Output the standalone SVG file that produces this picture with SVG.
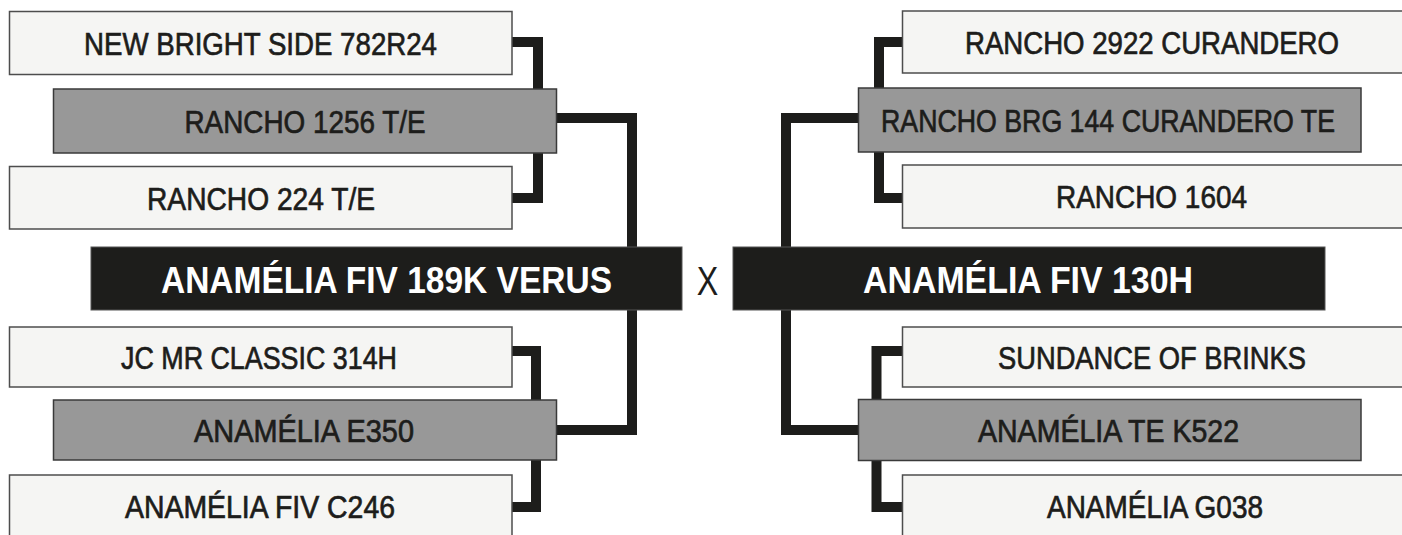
<svg xmlns="http://www.w3.org/2000/svg" width="1402" height="535" viewBox="0 0 1402 535">
<style>
.lt{fill:#f5f5f3;stroke:#4d4d4d;stroke-width:1.5}
.gr{fill:#989898;stroke:#3a3a3a;stroke-width:1.5}
.mn{fill:#1d1d1b;stroke:#555;stroke-width:1}
.t{font-family:"Liberation Sans",Arial,sans-serif;font-size:32px;fill:#1d1d1b;stroke:#1d1d1b;stroke-width:0.7;text-anchor:middle}
.tm{font-family:"Liberation Sans",Arial,sans-serif;font-size:36px;font-weight:bold;fill:#ffffff;text-anchor:middle}
.cn{fill:none;stroke:#1d1d1b;stroke-width:10;stroke-linejoin:miter}
</style>
<rect width="1402" height="535" fill="#ffffff"/>
<g id="connectors">
<path class="cn" d="M512,42 H538 V198 H512"/>
<path class="cn" d="M557,118 H632 V430 H557"/>
<path class="cn" d="M512,351 H536 V507 H512"/>
<path class="cn" d="M902,42 H879 V198 H902"/>
<path class="cn" d="M858,118 H786 V430 H858"/>
<path class="cn" d="M902,351 H876.5 V507 H902"/>
</g>
<g id="n-newbright"><rect class="lt" x="9.5" y="11.5" width="502.5" height="63"/><text class="t" x="260.5" y="55" textLength="353" lengthAdjust="spacingAndGlyphs">NEW BRIGHT SIDE 782R24</text></g>
<g id="n-rancho1256"><rect class="gr" x="53.5" y="89" width="503" height="64"/><text class="t" x="305" y="132.5" textLength="241" lengthAdjust="spacingAndGlyphs">RANCHO 1256 T/E</text></g>
<g id="n-rancho224"><rect class="lt" x="9.5" y="166.5" width="502.5" height="62.5"/><text class="t" x="261" y="209.5" textLength="228" lengthAdjust="spacingAndGlyphs">RANCHO 224 T/E</text></g>
<g id="n-main-left"><rect class="mn" x="91" y="247" width="591" height="63"/><text class="tm" x="386.5" y="292.5" textLength="451" lengthAdjust="spacingAndGlyphs">ANAMÉLIA FIV 189K VERUS</text></g>
<g id="n-x"><text x="707.5" y="295" font-family="Liberation Sans, Arial, sans-serif" font-size="41" fill="#1d1d1b" text-anchor="middle" textLength="21.5" lengthAdjust="spacingAndGlyphs">X</text></g>
<g id="n-jcmr"><rect class="lt" x="9.5" y="327" width="502.5" height="60"/><text class="t" x="259" y="368.5" textLength="276" lengthAdjust="spacingAndGlyphs">JC MR CLASSIC 314H</text></g>
<g id="n-e350"><rect class="gr" x="53.5" y="400" width="503" height="60"/><text class="t" x="304" y="441.5" textLength="220" lengthAdjust="spacingAndGlyphs">ANAMÉLIA E350</text></g>
<g id="n-c246"><rect class="lt" x="9.5" y="475" width="502.5" height="64"/><text class="t" x="260" y="518" textLength="270" lengthAdjust="spacingAndGlyphs">ANAMÉLIA FIV C246</text></g>
<g id="n-rancho2922"><rect class="lt" x="902.5" y="11" width="502" height="62"/><text class="t" x="1152" y="54" textLength="374" lengthAdjust="spacingAndGlyphs">RANCHO 2922 CURANDERO</text></g>
<g id="n-brg144"><rect class="gr" x="858.5" y="88" width="502.5" height="64"/><text class="t" x="1108" y="131.5" textLength="454" lengthAdjust="spacingAndGlyphs">RANCHO BRG 144 CURANDERO TE</text></g>
<g id="n-rancho1604"><rect class="lt" x="902.5" y="165" width="502" height="63"/><text class="t" x="1151.5" y="208" textLength="191" lengthAdjust="spacingAndGlyphs">RANCHO 1604</text></g>
<g id="n-main-right"><rect class="mn" x="733" y="247" width="592" height="63"/><text class="tm" x="1028" y="292.5" textLength="330" lengthAdjust="spacingAndGlyphs">ANAMÉLIA FIV 130H</text></g>
<g id="n-sundance"><rect class="lt" x="902.5" y="327" width="502" height="60"/><text class="t" x="1152" y="368.5" textLength="308" lengthAdjust="spacingAndGlyphs">SUNDANCE OF BRINKS</text></g>
<g id="n-k522"><rect class="gr" x="858.5" y="399.5" width="502.5" height="61"/><text class="t" x="1108.5" y="441.5" textLength="261" lengthAdjust="spacingAndGlyphs">ANAMÉLIA TE K522</text></g>
<g id="n-g038"><rect class="lt" x="902.5" y="475" width="502" height="64"/><text class="t" x="1155" y="518" textLength="216" lengthAdjust="spacingAndGlyphs">ANAMÉLIA G038</text></g>
</svg>
